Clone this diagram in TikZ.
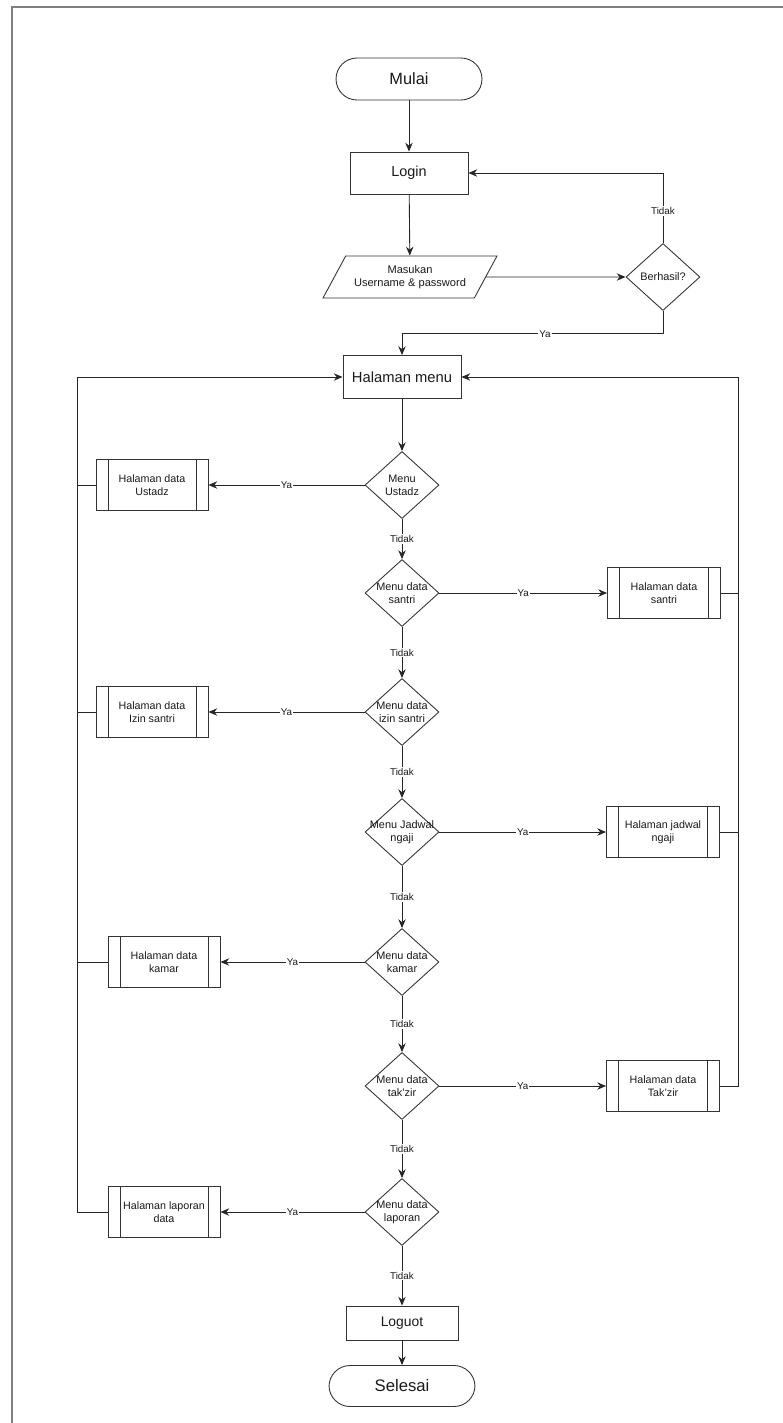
\documentclass[tikz,border=0pt]{standalone}
\usepackage{fontspec}
\setmainfont{Liberation Sans}
\usetikzlibrary{shapes.geometric}
\usetikzlibrary{arrows.meta}
\tikzset{
    >={Stealth[length=5pt,width=4.2pt]},
    base/.style={
        draw=black!80,
        line width=0.5pt,
        align=center,
        inner sep=1pt,
        text=black!90
    },
    terminal/.style={
        base,
        rounded corners=0.42cm,
        minimum width=2.92cm,
        minimum height=0.84cm,
        font=\fontsize{9.3}{11}\selectfont
    },
    process/.style={
        base,
        minimum width=2.36cm,
        minimum height=0.84cm,
        font=\fontsize{8.2}{10}\selectfont
    },
    io/.style={
        base,
        trapezium,
        trapezium left angle=50,
        trapezium right angle=130,
        trapezium stretches body=true,
        minimum width=3.48cm,
        minimum height=0.84cm,
        font=\fontsize{6.3}{7.5}\selectfont
    },
    decision/.style={
        base,
        diamond,
        minimum width=1.48cm,
        minimum height=1.34cm,
        inner sep=0pt
    },
    dtext/.style={
        align=center,
        inner sep=0pt,
        text=black!90,
        font=\fontsize{6.2}{7.5}\selectfont
    },
    subproc/.style={
        base,
        minimum width=2.24cm,
        minimum height=1.02cm,
        font=\fontsize{6.1}{7.4}\selectfont,
        path picture={
            \draw[black!80, line width=0.5pt]
                ([xshift=0.24cm]path picture bounding box.north west) -- ([xshift=0.24cm]path picture bounding box.south west)
                ([xshift=-0.24cm]path picture bounding box.north east) -- ([xshift=-0.24cm]path picture bounding box.south east);
        }
    },
    lbl/.style={
        fill=white,
        inner sep=0.6pt,
        text=black!90,
        font=\fontsize{5.6}{6.5}\selectfont
    },
    link/.style={
        draw=black!85,
        line width=0.5pt
    },
    every edge/.append style={
        draw=black!85,
        ->,
        line width=0.5pt
    }
}

\begin{document}
\begin{tikzpicture}[x=0.02cm, y=-0.02cm]
    \useasboundingbox (0,0) rectangle (783,1423);
    \draw[gray, line width=1.1pt] (12,1423) -- (12,7) -- (783,7);

    % login part
    \node[terminal] (mulai) at (409,79) {Mulai};
    \node[process] (login) at (409,173) {Login};
    \node[io] (input) at (410,277) {Masukan\\Username \& password};
    \node[decision, label={[dtext]center:{Berhasil?}}] (berhasil) at (663,277) {};

    \draw (mulai) edge (login);
    \draw (login) edge (input);
    \draw (input) edge (berhasil);
    \draw[link, ->] (berhasil.north) |- node[lbl, pos=0.23] {Tidak} (login.east);

    % menu
    \node[process, minimum height=0.86cm, font=\fontsize{8.4}{10}\selectfont] (menu) at (402,377) {Halaman menu};
    \draw[link, ->] (berhasil.south) -- ++(0,23) -| node[lbl, pos=0.226] {Ya} (menu.north);

    \node[decision, label={[dtext]center:{Menu\\Ustadz}}] (ustadz) at (402,485) {};
    \node[decision, label={[dtext]center:{Menu data\\santri}}] (santri) at (402,593) {};
    \node[decision, label={[dtext]center:{Menu data\\izin santri}}] (izin) at (402,712) {};
    \node[decision, label={[dtext]center:{Menu Jadwal\\ngaji}}] (jadwal) at (402,832) {};
    \node[decision, label={[dtext]center:{Menu data\\kamar}}] (kamar) at (402,962) {};
    \node[decision, label={[dtext]center:{Menu data\\tak'zir}}] (takzir) at (402,1086) {};
    \node[decision, label={[dtext]center:{Menu data\\laporan}}] (laporan) at (402,1212) {};

    \node[subproc] (hustadz) at (152,485) {Halaman data\\Ustadz};
    \node[subproc, minimum width=2.26cm] (hsantri) at (664,593) {Halaman data\\santri};
    \node[subproc] (hizin) at (152,712) {Halaman data\\Izin santri};
    \node[subproc, minimum width=2.26cm] (hjadwal) at (663,832) {Halaman jadwal\\ngaji};
    \node[subproc] (hkamar) at (164,962) {Halaman data\\kamar};
    \node[subproc, minimum width=2.26cm] (htakzir) at (663,1086) {Halaman data\\Tak'zir};
    \node[subproc] (hlaporan) at (164,1212) {Halaman laporan\\data};

    \node[process, minimum width=2.24cm, minimum height=0.68cm, font=\fontsize{7.9}{9}\selectfont] (logout) at (402,1323) {Loguot};
    \node[terminal, minimum height=0.82cm, font=\fontsize{9.5}{11}\selectfont] (selesai) at (402,1386) {Selesai};

    % main column
    \draw (menu) edge (ustadz);
    \draw (ustadz) edge node[lbl] {Tidak} (santri);
    \draw (santri) edge node[lbl] {Tidak} (izin);
    \draw (izin) edge node[lbl] {Tidak} (jadwal);
    \draw (jadwal) edge node[lbl] {Tidak} (kamar);
    \draw (kamar) edge node[lbl] {Tidak} (takzir);
    \draw (takzir) edge node[lbl] {Tidak} (laporan);
    \draw (laporan) edge node[lbl] {Tidak} (logout);
    \draw (logout) edge (selesai);

    % Ya branches
    \draw (ustadz) edge node[lbl] {Ya} (hustadz);
    \draw (santri) edge node[lbl] {Ya} (hsantri);
    \draw (izin) edge node[lbl] {Ya} (hizin);
    \draw (jadwal) edge node[lbl] {Ya} (hjadwal);
    \draw (kamar) edge node[lbl] {Ya} (hkamar);
    \draw (takzir) edge node[lbl] {Ya} (htakzir);
    \draw (laporan) edge node[lbl] {Ya} (hlaporan);

    % back to menu
    \coordinate (busL) at (77,377);
    \coordinate (busR) at (738,377);
    \draw[link, ->] (hlaporan.west) -| (busL) -- (menu.west);
    \draw[link] (hustadz.west) -- (hustadz.west -| busL);
    \draw[link] (hizin.west) -- (hizin.west -| busL);
    \draw[link] (hkamar.west) -- (hkamar.west -| busL);
    \draw[link, ->] (htakzir.east) -| (busR) -- (menu.east);
    \draw[link] (hsantri.east) -- (hsantri.east -| busR);
    \draw[link] (hjadwal.east) -- (hjadwal.east -| busR);
\end{tikzpicture}
\end{document}
